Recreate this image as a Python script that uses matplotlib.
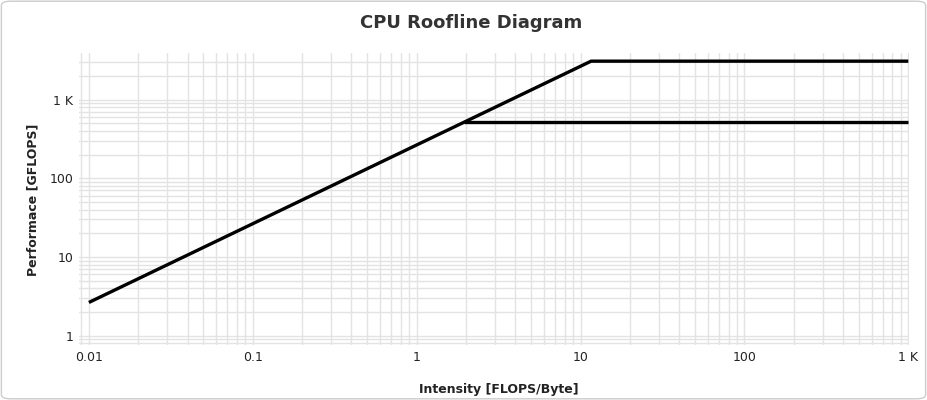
import matplotlib
matplotlib.use("Agg")
import matplotlib.pyplot as plt
from matplotlib.patches import FancyBboxPatch
from matplotlib.ticker import FixedLocator, FixedFormatter, LogLocator, NullFormatter

# ---- data ----
roof_x = [0.01, 11.6, 1000]
roof_y = [2.64, 3072, 3072]
ceiling_x = [1.94, 1000]
ceiling_y = [512, 512]

x_ticks = [0.01, 0.1, 1, 10, 100, 1000]
x_tick_labels = ["0.01", "0.1", "1", "10", "100", "1 K"]
y_ticks = [1, 10, 100, 1000]
y_tick_labels = ["1", "10", "100", "1 K"]

title = "CPU Roofline Diagram"
xlabel = "Intensity [FLOPS/Byte]"
ylabel = "Performace [GFLOPS]"

# ---- figure ----
fig = plt.figure(figsize=(9.27, 4.0), dpi=100)
border = FancyBboxPatch((0.0015, 0.003), 0.997, 0.994,
                        boxstyle="round,pad=0,rounding_size=0.01",
                        transform=fig.transFigure, facecolor="white",
                        edgecolor="#cccccc", linewidth=1.0, zorder=-10)
fig.patches.append(border)

ax = fig.add_axes([0.0852, 0.1375, 0.8954, 0.73])
ax.set_facecolor("none")
ax.set_xscale("log")
ax.set_yscale("log")
ax.set_xlim(0.0087, 1010)
ax.set_ylim(0.76, 3900)

ax.plot(roof_x, roof_y, color="black", linewidth=2.4, solid_capstyle="butt", zorder=3)
ax.plot(ceiling_x, ceiling_y, color="black", linewidth=2.4, solid_capstyle="butt", zorder=3)

ax.xaxis.set_major_locator(FixedLocator(x_ticks))
ax.xaxis.set_major_formatter(FixedFormatter(x_tick_labels))
ax.yaxis.set_major_locator(FixedLocator(y_ticks))
ax.yaxis.set_major_formatter(FixedFormatter(y_tick_labels))
ax.xaxis.set_minor_locator(LogLocator(base=10, subs=range(2, 10), numticks=20))
ax.yaxis.set_minor_locator(LogLocator(base=10, subs=range(2, 10), numticks=20))
ax.xaxis.set_minor_formatter(NullFormatter())
ax.yaxis.set_minor_formatter(NullFormatter())

ax.grid(True, which="both", color="#e3e3e3", linewidth=1.0, zorder=0)
ax.set_axisbelow(True)
ax.tick_params(which="both", length=0, labelsize=9, colors="#222222")
ax.tick_params(axis="x", pad=4)
ax.tick_params(axis="y", pad=4)
for s in ax.spines.values():
    s.set_visible(False)

fig.text(0.508, 0.942, title, ha="center", va="center", fontsize=13,
         fontweight="bold", color="#333333")
fig.text(0.538, 0.025, xlabel, ha="center", va="center", fontsize=9,
         fontweight="bold", color="#222222")
fig.text(0.035, 0.5, ylabel, ha="center", va="center", rotation=90,
         fontsize=9, fontweight="bold", color="#222222")

fig.savefig("out.png", dpi=100)
